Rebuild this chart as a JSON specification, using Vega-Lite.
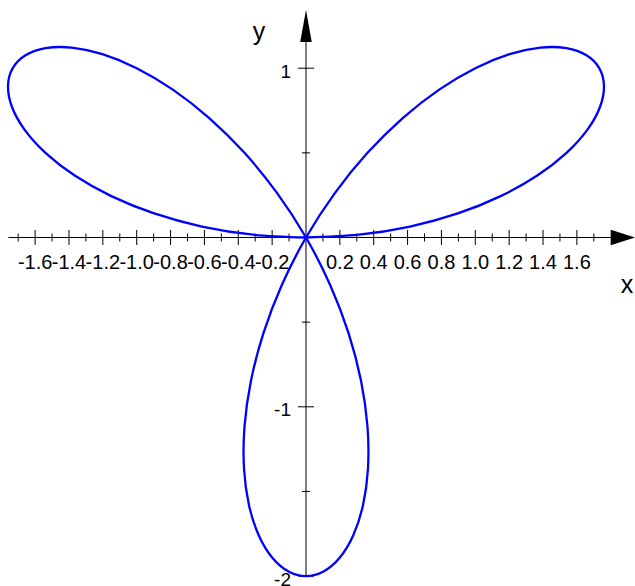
{
  "$schema": "https://vega.github.io/schema/vega-lite/v6.json",
  "width": 635,
  "height": 586,
  "autosize": "none",
  "padding": 0,
  "background": "white",
  "config": {"view": {"stroke": null}},
  "datasets": {
    "curve": [
      {"i":0,"x":0,"y":0},
      {"i":1,"x":0.31244,"y":0.01638},
      {"i":2,"x":0.61464,"y":0.0646},
      {"i":3,"x":0.8968,"y":0.14203},
      {"i":4,"x":1.14988,"y":0.24441},
      {"i":5,"x":1.36603,"y":0.36603},
      {"i":6,"x":1.53884,"y":0.5},
      {"i":7,"x":1.66365,"y":0.63862},
      {"i":8,"x":1.73767,"y":0.77367},
      {"i":9,"x":1.76007,"y":0.8968},
      {"i":10,"x":1.73205,"y":1},
      {"i":11,"x":1.65669,"y":1.07587},
      {"i":12,"x":1.53884,"y":1.11804},
      {"i":13,"x":1.3849,"y":1.12146},
      {"i":14,"x":1.20243,"y":1.08268},
      {"i":15,"x":1.0,"y":1.0},
      {"i":16,"x":0.78661,"y":0.87361},
      {"i":17,"x":0.57141,"y":0.70564},
      {"i":18,"x":0.36327,"y":0.5},
      {"i":19,"x":0.1704,"y":0.26239},
      {"i":20,"x":0,"y":0},
      {"i":21,"x":-0.14204,"y":-0.27877},
      {"i":22,"x":-0.25138,"y":-0.5646},
      {"i":23,"x":-0.32539,"y":-0.84767},
      {"i":24,"x":-0.36327,"y":-1.11804},
      {"i":25,"x":-0.36603,"y":-1.36603},
      {"i":26,"x":-0.33641,"y":-1.58268},
      {"i":27,"x":-0.27876,"y":-1.76007},
      {"i":28,"x":-0.19883,"y":-1.89169},
      {"i":29,"x":-0.10339,"y":-1.97267},
      {"i":30,"x":0,"y":-2},
      {"i":31,"x":0.10339,"y":-1.97267},
      {"i":32,"x":0.19883,"y":-1.89169},
      {"i":33,"x":0.27876,"y":-1.76007},
      {"i":34,"x":0.33641,"y":-1.58268},
      {"i":35,"x":0.36603,"y":-1.36603},
      {"i":36,"x":0.36327,"y":-1.11804},
      {"i":37,"x":0.32539,"y":-0.84767},
      {"i":38,"x":0.25138,"y":-0.5646},
      {"i":39,"x":0.14204,"y":-0.27877},
      {"i":40,"x":0,"y":0},
      {"i":41,"x":-0.1704,"y":0.26239},
      {"i":42,"x":-0.36327,"y":0.5},
      {"i":43,"x":-0.57141,"y":0.70564},
      {"i":44,"x":-0.78661,"y":0.87361},
      {"i":45,"x":-1.0,"y":1.0},
      {"i":46,"x":-1.20243,"y":1.08268},
      {"i":47,"x":-1.3849,"y":1.12146},
      {"i":48,"x":-1.53884,"y":1.11804},
      {"i":49,"x":-1.65669,"y":1.07587},
      {"i":50,"x":-1.73205,"y":1},
      {"i":51,"x":-1.76007,"y":0.8968},
      {"i":52,"x":-1.73767,"y":0.77367},
      {"i":53,"x":-1.66365,"y":0.63862},
      {"i":54,"x":-1.53884,"y":0.5},
      {"i":55,"x":-1.36603,"y":0.36603},
      {"i":56,"x":-1.14988,"y":0.24441},
      {"i":57,"x":-0.8968,"y":0.14203},
      {"i":58,"x":-0.61464,"y":0.0646},
      {"i":59,"x":-0.31244,"y":0.01638},
      {"i":60,"x":0,"y":0}
    ],
    "xmajor": [
      {"v":-1.6,"label":"-1.6"},{"v":-1.4,"label":"-1.4"},{"v":-1.2,"label":"-1.2"},{"v":-1.0,"label":"-1.0"},
      {"v":-0.8,"label":"-0.8"},{"v":-0.6,"label":"-0.6"},{"v":-0.4,"label":"-0.4"},{"v":-0.2,"label":"-0.2"},
      {"v":0.2,"label":"0.2"},{"v":0.4,"label":"0.4"},{"v":0.6,"label":"0.6"},{"v":0.8,"label":"0.8"},
      {"v":1.0,"label":"1.0"},{"v":1.2,"label":"1.2"},{"v":1.4,"label":"1.4"},{"v":1.6,"label":"1.6"}
    ],
    "xminor": [
      {"v":-1.7},{"v":-1.5},{"v":-1.3},{"v":-1.1},{"v":-0.9},{"v":-0.7},{"v":-0.5},{"v":-0.3},{"v":-0.1},
      {"v":0.1},{"v":0.3},{"v":0.5},{"v":0.7},{"v":0.9},{"v":1.1},{"v":1.3},{"v":1.5},{"v":1.7}
    ],
    "ymajor": [
      {"v":1,"label":"1"},{"v":-1,"label":"-1"},{"v":-2,"label":"-2"}
    ],
    "yminor": [
      {"v":0.5},{"v":-0.5},{"v":-1.5}
    ],
    "one": [{"k": 1}]
  },
  "layer": [
    {
      "data": {"name": "one"},
      "mark": {"type": "rule", "color": "black", "strokeWidth": 1},
      "encoding": {
        "x": {"datum": -1.758, "type": "quantitative", "scale": {"domain": [-1.8074, 1.9433], "nice": false, "zero": false}, "axis": null},
        "x2": {"datum": 1.92},
        "y": {"datum": 0, "type": "quantitative", "scale": {"domain": [-2.0585, 1.4028], "nice": false, "zero": false}, "axis": null}
      }
    },
    {
      "data": {"name": "one"},
      "mark": {"type": "rule", "color": "black", "strokeWidth": 1},
      "encoding": {
        "x": {"datum": 0, "type": "quantitative", "scale": {"domain": [-1.8074, 1.9433], "nice": false, "zero": false}, "axis": null},
        "y": {"datum": -2, "type": "quantitative", "scale": {"domain": [-2.0585, 1.4028], "nice": false, "zero": false}, "axis": null},
        "y2": {"datum": 1.3}
      }
    },
    {
      "data": {"name": "xmajor"},
      "mark": {"type": "tick", "orient": "vertical", "size": 15, "thickness": 1, "color": "black", "opacity": 1},
      "encoding": {
        "x": {"field": "v", "type": "quantitative", "scale": {"domain": [-1.8074, 1.9433], "nice": false, "zero": false}, "axis": null},
        "y": {"datum": 0, "type": "quantitative", "scale": {"domain": [-2.0585, 1.4028], "nice": false, "zero": false}, "axis": null}
      }
    },
    {
      "data": {"name": "xminor"},
      "mark": {"type": "tick", "orient": "vertical", "size": 8, "thickness": 1, "color": "black", "opacity": 1},
      "encoding": {
        "x": {"field": "v", "type": "quantitative", "scale": {"domain": [-1.8074, 1.9433], "nice": false, "zero": false}, "axis": null},
        "y": {"datum": 0, "type": "quantitative", "scale": {"domain": [-2.0585, 1.4028], "nice": false, "zero": false}, "axis": null}
      }
    },
    {
      "data": {"name": "ymajor"},
      "mark": {"type": "tick", "orient": "horizontal", "size": 16, "thickness": 1, "color": "black", "opacity": 1},
      "encoding": {
        "x": {"datum": 0, "type": "quantitative", "scale": {"domain": [-1.8074, 1.9433], "nice": false, "zero": false}, "axis": null},
        "y": {"field": "v", "type": "quantitative", "scale": {"domain": [-2.0585, 1.4028], "nice": false, "zero": false}, "axis": null}
      }
    },
    {
      "data": {"name": "yminor"},
      "mark": {"type": "tick", "orient": "horizontal", "size": 8, "thickness": 1, "color": "black", "opacity": 1},
      "encoding": {
        "x": {"datum": 0, "type": "quantitative", "scale": {"domain": [-1.8074, 1.9433], "nice": false, "zero": false}, "axis": null},
        "y": {"field": "v", "type": "quantitative", "scale": {"domain": [-2.0585, 1.4028], "nice": false, "zero": false}, "axis": null}
      }
    },
    {
      "data": {"name": "xmajor"},
      "mark": {"type": "text", "align": "center", "baseline": "alphabetic", "dy": 31.5, "fontSize": 20, "font": "Liberation Sans", "color": "black"},
      "encoding": {
        "x": {"field": "v", "type": "quantitative", "scale": {"domain": [-1.8074, 1.9433], "nice": false, "zero": false}, "axis": null},
        "y": {"datum": 0, "type": "quantitative", "scale": {"domain": [-2.0585, 1.4028], "nice": false, "zero": false}, "axis": null},
        "text": {"field": "label"}
      }
    },
    {
      "data": {"name": "ymajor"},
      "mark": {"type": "text", "align": "right", "baseline": "alphabetic", "dx": -15, "dy": 9.5, "fontSize": 19, "font": "Liberation Sans", "color": "black"},
      "encoding": {
        "x": {"datum": 0, "type": "quantitative", "scale": {"domain": [-1.8074, 1.9433], "nice": false, "zero": false}, "axis": null},
        "y": {"field": "v", "type": "quantitative", "scale": {"domain": [-2.0585, 1.4028], "nice": false, "zero": false}, "axis": null},
        "text": {"field": "label"}
      }
    },
    {
      "data": {"name": "one"},
      "mark": {"type": "text", "align": "center", "baseline": "alphabetic", "fontSize": 25, "font": "Liberation Sans", "color": "black", "text": "x"},
      "encoding": {
        "x": {"datum": 1.896, "type": "quantitative", "scale": {"domain": [-1.8074, 1.9433], "nice": false, "zero": false}, "axis": null},
        "y": {"datum": -0.3278, "type": "quantitative", "scale": {"domain": [-2.0585, 1.4028], "nice": false, "zero": false}, "axis": null}
      }
    },
    {
      "data": {"name": "one"},
      "mark": {"type": "text", "align": "center", "baseline": "alphabetic", "fontSize": 25, "font": "Liberation Sans", "color": "black", "text": "y"},
      "encoding": {
        "x": {"datum": -0.2776, "type": "quantitative", "scale": {"domain": [-1.8074, 1.9433], "nice": false, "zero": false}, "axis": null},
        "y": {"datum": 1.1666, "type": "quantitative", "scale": {"domain": [-2.0585, 1.4028], "nice": false, "zero": false}, "axis": null}
      }
    },
    {
      "data": {"name": "one"},
      "mark": {"type": "point", "filled": true, "color": "black", "opacity": 1, "strokeWidth": 0, "size": 590, "shape": "M0,0 L-2,-0.64 L-2,0.64 Z"},
      "encoding": {
        "x": {"datum": 1.9433, "type": "quantitative", "scale": {"domain": [-1.8074, 1.9433], "nice": false, "zero": false}, "axis": null},
        "y": {"datum": 0, "type": "quantitative", "scale": {"domain": [-2.0585, 1.4028], "nice": false, "zero": false}, "axis": null}
      }
    },
    {
      "data": {"name": "one"},
      "mark": {"type": "point", "filled": true, "color": "black", "opacity": 1, "strokeWidth": 0, "size": 1024, "shape": "M0,0 L-0.36,2 L0.36,2 Z"},
      "encoding": {
        "x": {"datum": 0, "type": "quantitative", "scale": {"domain": [-1.8074, 1.9433], "nice": false, "zero": false}, "axis": null},
        "y": {"datum": 1.3438, "type": "quantitative", "scale": {"domain": [-2.0585, 1.4028], "nice": false, "zero": false}, "axis": null}
      }
    },
    {
      "data": {"name": "curve"},
      "mark": {"type": "line", "color": "#0000ff", "strokeWidth": 2.3, "interpolate": "cardinal"},
      "encoding": {
        "x": {"field": "x", "type": "quantitative", "scale": {"domain": [-1.8074, 1.9433], "nice": false, "zero": false}, "axis": null},
        "y": {"field": "y", "type": "quantitative", "scale": {"domain": [-2.0585, 1.4028], "nice": false, "zero": false}, "axis": null},
        "order": {"field": "i", "type": "quantitative"}
      }
    }
  ]
}
